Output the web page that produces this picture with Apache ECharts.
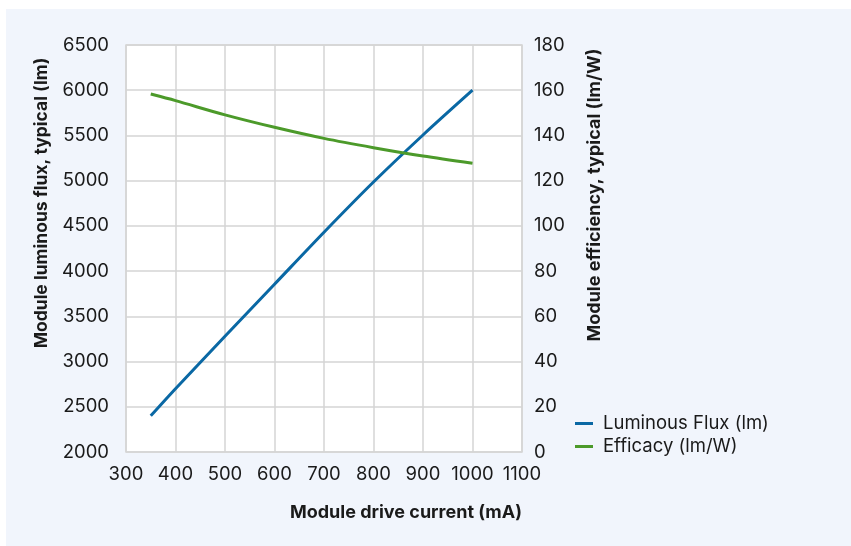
<!DOCTYPE html>
<html>
<head>
<meta charset="utf-8">
<script src="https://cdn.jsdelivr.net/npm/echarts@6/dist/echarts.min.js"></script>
<style>
html,body{margin:0;padding:0;background:#ffffff;}
#bg{position:absolute;left:6px;top:9px;width:845px;height:537px;background:#f1f5fc;}
#chart{position:absolute;left:0;top:0;width:851px;height:546px;}
</style>
</head>
<body>
<div id="bg"></div>
<div id="chart"></div>
<script>
const currents = [350, 400, 500, 600, 700, 800, 900, 1000];
const fluxValues = [2400, 2700, 3280, 3855, 4430, 4985, 5505, 6000];
const efficacyValues = [158.3, 155.4, 149.1, 143.6, 138.7, 134.6, 130.9, 127.7];
const seriesNames = ['Luminous Flux (lm)', 'Efficacy (lm/W)'];
const xAxisTitle = 'Module drive current (mA)';
const leftAxisTitle = 'Module luminous flux, typical (lm)';
const rightAxisTitle = 'Module efficiency, typical (lm/W)';

const FONT = 'Inter';
const TXT = '#1a1a1a';
const GRIDC = '#d4d4d4';
const plain = v => String(v);

const chart = echarts.init(document.getElementById('chart'), null, {renderer: 'canvas'});
chart.setOption({
  backgroundColor: 'transparent',
  animation: false,
  textStyle: {fontFamily: FONT, color: TXT},
  grid: {left: 126, right: 329, top: 45, bottom: 94, show: true, backgroundColor: '#ffffff', borderColor: GRIDC, borderWidth: 1.5},
  legend: {
    orient: 'vertical', left: 570, top: 409, itemWidth: 18, itemHeight: 3, itemGap: 4,
    icon: 'rect',
    textStyle: {fontFamily: FONT, fontSize: 18.5, color: TXT, lineHeight: 19, padding: [0, 0, 0, 5]},
    data: seriesNames
  },
  xAxis: {
    type: 'value', min: 300, max: 1100, interval: 100,
    axisLine: {show: false}, axisTick: {show: false},
    axisLabel: {fontFamily: FONT, fontSize: 18.5, color: TXT, margin: 13, formatter: plain},
    splitLine: {show: true, lineStyle: {color: GRIDC, width: 1.5}}
  },
  yAxis: [
    {
      type: 'value', min: 2000, max: 6500, interval: 500,
      axisLine: {show: false}, axisTick: {show: false},
      axisLabel: {fontFamily: FONT, fontSize: 18.5, color: TXT, margin: 17, formatter: plain},
      splitLine: {show: true, lineStyle: {color: GRIDC, width: 1.5}}
    },
    {
      type: 'value', min: 0, max: 180, interval: 20, position: 'right',
      axisLine: {show: false}, axisTick: {show: false},
      axisLabel: {fontFamily: FONT, fontSize: 18.5, color: TXT, margin: 12, formatter: plain},
      splitLine: {show: false}
    }
  ],
  graphic: [
    {type: 'text', style: {text: leftAxisTitle, font: 'bold 17.5px ' + FONT, fill: TXT, textAlign: 'center', textVerticalAlign: 'middle'}, x: 42, y: 203, rotation: Math.PI / 2},
    {type: 'text', style: {text: rightAxisTitle, font: 'bold 18px ' + FONT, fill: TXT, textAlign: 'center', textVerticalAlign: 'middle'}, x: 595, y: 195, rotation: Math.PI / 2},
    {type: 'text', style: {text: xAxisTitle, font: 'bold 18px ' + FONT, fill: TXT, textAlign: 'right', textVerticalAlign: 'middle'}, x: 522, y: 513}
  ],
  series: [
    {
      name: seriesNames[0], type: 'line', yAxisIndex: 0, smooth: 0.3, showSymbol: false, symbol: 'none',
      lineStyle: {color: '#0a68a4', width: 3}, itemStyle: {color: '#0a68a4'},
      data: currents.map((c, i) => [c, fluxValues[i]])
    },
    {
      name: seriesNames[1], type: 'line', yAxisIndex: 1, smooth: 0.3, showSymbol: false, symbol: 'none',
      lineStyle: {color: '#4c9a2a', width: 3}, itemStyle: {color: '#4c9a2a'},
      data: currents.map((c, i) => [c, efficacyValues[i]])
    }
  ]
});
</script>
</body>
</html>
